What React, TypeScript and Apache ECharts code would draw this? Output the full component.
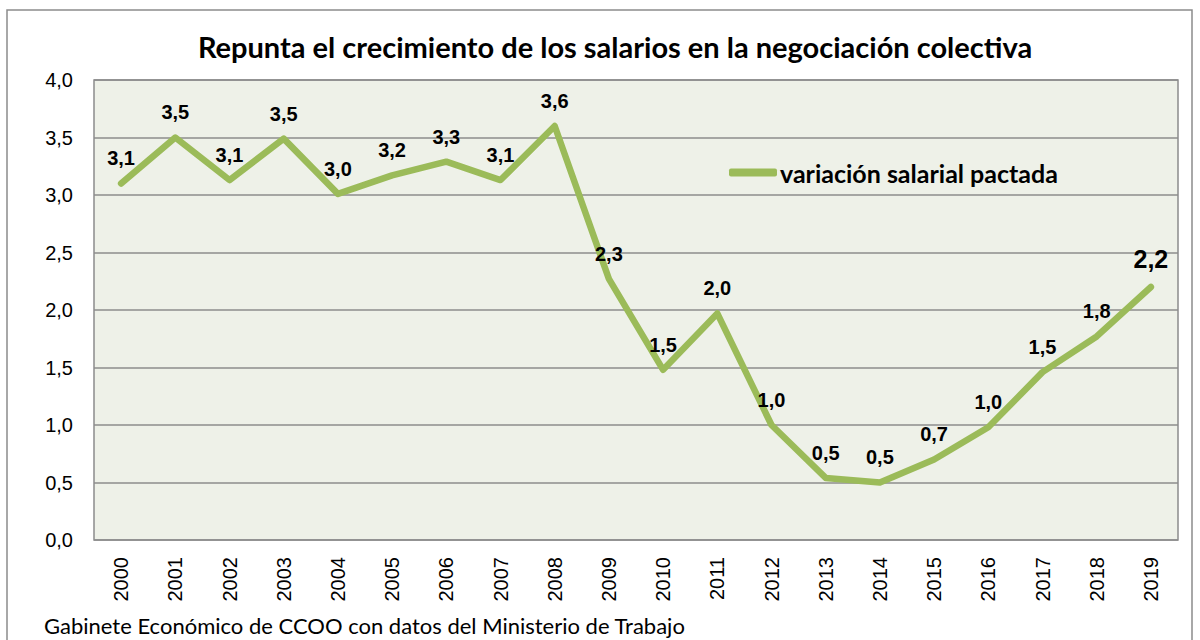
import React, { useEffect, useRef } from "react";
import * as echarts from "echarts";

const TITLE = "Repunta el crecimiento de los salarios en la negociación colectiva";
const SOURCE = "Gabinete Económico de CCOO con datos del Ministerio de Trabajo";
const SERIES_NAME = "variación salarial pactada";
const years = ["2000","2001","2002","2003","2004","2005","2006","2007","2008","2009","2010","2011","2012","2013","2014","2015","2016","2017","2018","2019"];
const values = [3.1, 3.5, 3.13, 3.49, 3.01, 3.17, 3.29, 3.13, 3.6, 2.27, 1.48, 1.97, 1.0, 0.54, 0.5, 0.7, 0.98, 1.46, 1.77, 2.2];

const fmt = (v: number) => v.toFixed(1).replace(".", ",");

export default function App() {
  const ref = useRef<HTMLDivElement>(null);
  useEffect(() => {
    if (!ref.current) return;
    const chart = echarts.init(ref.current, null, { renderer: "svg" });
    const last = values.length - 1;
    chart.setOption({
      animation: false,
      backgroundColor: "#ffffff",
      title: {
        text: TITLE,
        left: 610,
        textAlign: "center",
        top: 27,
        textStyle: { fontFamily: "Lato", fontWeight: "bold", fontSize: 29, color: "#000" },
      },
      legend: {
        left: 724,
        top: 155,
        itemWidth: 48,
        itemHeight: 8,
        itemGap: 10,
        icon: "roundRect",
        textStyle: { fontFamily: "Lato", fontWeight: "bold", fontSize: 25, color: "#000", padding: [0, 0, 0, -2] },
        data: [{ name: SERIES_NAME, itemStyle: { color: "#9bbb59" } }],
      },
      grid: {
        left: 94,
        right: 22,
        top: 80,
        bottom: 100,
        show: true,
        backgroundColor: "#eef1e8",
        borderColor: "#8c8c8c",
        borderWidth: 1.5,
      },
      xAxis: {
        type: "category",
        data: years,
        boundaryGap: true,
        axisLine: { show: false },
        axisTick: { show: false },
        axisLabel: { rotate: 90, margin: 17, fontFamily: "Arial", fontSize: 20, color: "#000" },
      },
      yAxis: {
        type: "value",
        min: 0,
        max: 4,
        interval: 0.5,
        axisLine: { show: false },
        axisTick: { show: false },
        splitLine: { lineStyle: { color: "#8c8c8c", width: 1.5 } },
        axisLabel: { margin: 21, fontFamily: "Arial", fontSize: 20, color: "#000", formatter: (v: number) => fmt(v) },
      },
      series: [
        {
          name: SERIES_NAME,
          type: "line",
          data: values.map((v, i) =>
            i === last
              ? { value: v, label: { fontSize: 25, distance: 15 } }
              : v
          ),
          smooth: false,
          showSymbol: true,
          symbol: "circle",
          symbolSize: 0.1,
          lineStyle: { color: "#9bbb59", width: 6.5, cap: "round", join: "round" },
          itemStyle: { color: "#9bbb59" },
          label: {
            show: true,
            position: "top",
            distance: 15,
            fontFamily: "Arial",
            fontWeight: "bold",
            fontSize: 20,
            color: "#000",
            formatter: (p: any) => fmt(p.value),
          },
        },
      ],
      graphic: [
        {
          type: "rect",
          shape: { x: 7, y: 10, width: 1185, height: 640 },
          style: { fill: "none", stroke: "#8c8c8c", lineWidth: 1.5 },
          silent: true,
        },
        {
          type: "text",
          left: 44,
          top: 614,
          style: { text: SOURCE, fontFamily: "Lato", fontSize: 22, fill: "#000" },
        },
      ],
    });
    return () => chart.dispose();
  }, []);
  return <div ref={ref} style={{ position: "fixed", left: 0, top: 0, width: 1200, height: 640 }} />;
}
